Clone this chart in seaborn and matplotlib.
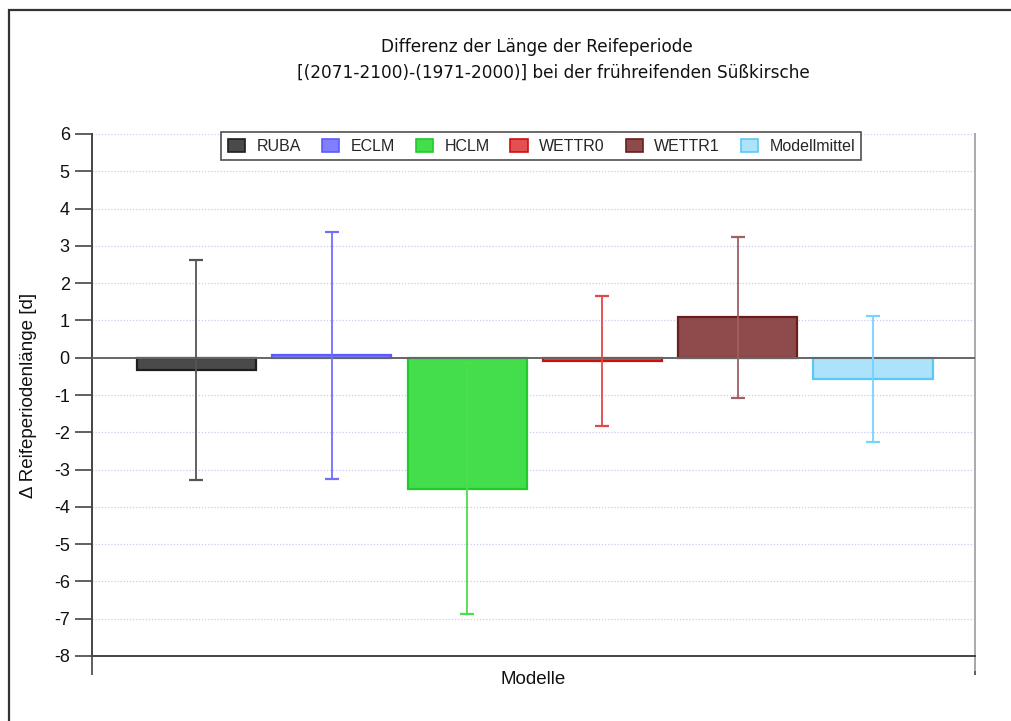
import matplotlib
matplotlib.use("Agg")
import matplotlib.pyplot as plt
from matplotlib.patches import Rectangle
import seaborn as sns
import pandas as pd

# Change in ripening-period length per model, with spread
models = ["RUBA", "ECLM", "HCLM", "WETTR0", "WETTR1", "Modellmittel"]
mean_diff = [-0.33, 0.06, -3.51, -0.085, 1.085, -0.565]
spread = [2.95, 3.31, 3.37, 1.75, 2.16, 1.69]

fill_colors = ["#4a4a4a", "#8080ff", "#44dd4c", "#e45050", "#8f4b4b", "#ade2fb"]
edge_colors = ["#1e1e1e", "#5a5aff", "#1fcc2a", "#cc1010", "#6a1e1e", "#5cc8f8"]
err_colors = ["#555555", "#7070ff", "#4adf4a", "#e24848", "#9e6060", "#77d3ff"]

sns.set_theme(style="white")
plt.rcParams["font.family"] = ["Liberation Sans", "DejaVu Sans"]

df = pd.DataFrame({"Modell": models, "Differenz": mean_diff})

fig = plt.figure(figsize=(10.12, 7.21), dpi=100)
ax = fig.add_axes([92 / 1012, 1 - 656 / 721, 883 / 1012, 522 / 721])

# outer frame around the chart
fig.patches.append(Rectangle((9 / 1012, -0.05), 1.2, 1 - 10 / 721 + 0.05,
                             transform=fig.transFigure, fill=False,
                             edgecolor="#333333", linewidth=1.6, zorder=0))

ax.set_ylim(-8, 6)
ax.set_xlim(-0.772, 5.754)

# dotted grid
for yv in range(-8, 7):
    if yv in (0, -8):
        continue
    ax.axhline(yv, color="#c9c9f7", linestyle=(0, (1, 1.5)), linewidth=0.9, zorder=0)

sns.barplot(data=df, x="Modell", y="Differenz", hue="Modell", order=models,
            hue_order=models, palette=fill_colors, saturation=1, width=0.88,
            dodge=False, legend=True, ax=ax, zorder=2)
for patch, ec in zip(ax.patches, edge_colors):
    patch.set_edgecolor(ec)
    patch.set_linewidth(1.6)

ax.axhline(0, color="#666666", linewidth=1.4, zorder=3)

for i, (m, s, c) in enumerate(zip(mean_diff, spread, err_colors)):
    ax.errorbar(i, m, yerr=s, fmt="none", ecolor=c, elinewidth=1.3,
                capsize=5, capthick=1.6, zorder=4)

# axes styling
ax.set_yticks(range(-8, 7))
ax.set_yticklabels([str(v) for v in range(-8, 7)], fontsize=13)
ax.set_xticks([-0.772, 5.754])
ax.set_xticklabels(["", ""])
ax.tick_params(axis="y", direction="out", length=12, width=1.2, color="#444444",
               left=True, pad=4, labelcolor="#111111")
ax.tick_params(axis="x", direction="out", length=14, width=1.2, color="#444444",
               bottom=True)
for side in ("left", "bottom"):
    ax.spines[side].set_color("#444444")
    ax.spines[side].set_linewidth(1.4)
ax.spines["top"].set_visible(False)
ax.spines["right"].set_color("#aaaaaa")
ax.spines["right"].set_linewidth(1.4)
ax.spines["right"].set_bounds(-8.38, 6)
ax.spines["right"].set_clip_on(False)

ax.set_xlabel("Modelle", fontsize=13.5, labelpad=-7, color="#111111")
ax.set_ylabel("Δ Reifeperiodenlänge [d]", fontsize=13.5, labelpad=12, color="#111111")

title_font = ["DejaVu Sans"]
fig.text(537 / 1012, 1 - 47 / 721, "Differenz der Länge der Reifeperiode",
         ha="center", va="center", fontsize=12.2, color="#111111", family=title_font)
fig.text(553 / 1012, 1 - 73 / 721,
         "[(2071-2100)-(1971-2000)] bei der frühreifenden Süßkirsche",
         ha="center", va="center", fontsize=12.2, color="#111111", family=title_font)

handles, labels = ax.get_legend_handles_labels()
for h, ec in zip(handles, edge_colors):
    h.set_edgecolor(ec)
    h.set_linewidth(1.2)
leg = ax.legend(handles, labels, loc="upper center", bbox_to_anchor=(0.509, 1.003),
                ncol=6, fontsize=11.5, frameon=True, fancybox=False,
                edgecolor="#222222", borderaxespad=0, handlelength=1.1,
                handleheight=0.85, handletextpad=0.7, columnspacing=1.3,
                borderpad=0.4)
leg.get_frame().set_linewidth(1.2)
leg.set_zorder(5)

fig.savefig("out.png", dpi=100, facecolor="white")
